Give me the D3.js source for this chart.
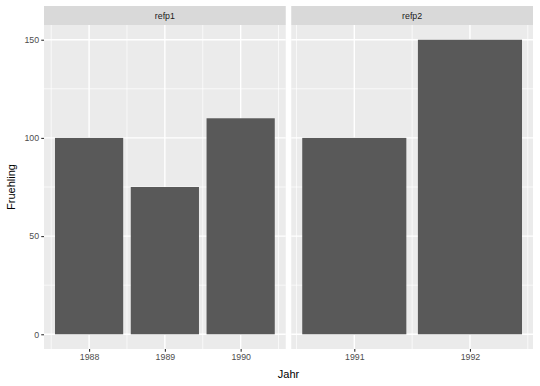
<!DOCTYPE html>
<html>
<head>
<meta charset="utf-8">
<script src="https://cdn.jsdelivr.net/npm/d3@7"></script>
<style>
  body { margin: 0; background: #fff; }
  text { font-family: "Liberation Sans", Arial, Helvetica, sans-serif; }
</style>
</head>
<body>
<div class="container"></div>
<script>
// facet labels and the data in each facet
const facets = ["refp1", "refp2"]
const years1 = [1988, 1989, 1990]
const values1 = [100, 75, 110]
const years2 = [1991, 1992]
const values2 = [100, 150]
const yTicks = [0, 50, 100, 150]
const yMinor = [25, 75, 125]

const W = 540, H = 386
const svg = d3.select(".container").append("svg")
    .attr("width", W).attr("height", H)

const panelTop = 25, panelBottom = 349, stripTop = 6
const panelX = [[44, 285.75], [291.25, 533]]
const barW = 0.9

const y = d3.scaleLinear().domain([-7.5, 157.5]).range([panelBottom, panelTop])

const panels = [
    {name: facets[0], years: years1, values: values1},
    {name: facets[1], years: years2, values: values2}
]

panels.forEach((p, i) => {
    const [x0, x1] = panelX[i]
    // continuous x, bar extents plus 5% expansion
    const lo = d3.min(p.years) - barW / 2, hi = d3.max(p.years) + barW / 2
    const pad = (hi - lo) * 0.05
    const x = d3.scaleLinear().domain([lo - pad, hi + pad]).range([x0, x1])

    const g = svg.append("g")

    // strip
    g.append("rect").attr("x", x0).attr("y", stripTop)
        .attr("width", x1 - x0).attr("height", panelTop - stripTop)
        .attr("fill", "#d9d9d9")
    g.append("text").attr("x", (x0 + x1) / 2).attr("y", (stripTop + panelTop) / 2 + 3)
        .attr("text-anchor", "middle").attr("font-size", 8.8)
        .attr("fill", "#1a1a1a").text(p.name)

    // panel background
    g.append("rect").attr("x", x0).attr("y", panelTop)
        .attr("width", x1 - x0).attr("height", panelBottom - panelTop)
        .attr("fill", "#ebebeb")

    // minor grid
    const xMinor = d3.range(Math.ceil(lo - pad - 0.5) + 0.5, hi + pad, 1)
    g.selectAll(".ymin").data(yMinor).enter().append("line")
        .attr("x1", x0).attr("x2", x1)
        .attr("y1", d => y(d)).attr("y2", d => y(d))
        .attr("stroke", "#fff").attr("stroke-width", 0.7)
    g.selectAll(".xmin").data(xMinor).enter().append("line")
        .attr("y1", panelTop).attr("y2", panelBottom)
        .attr("x1", d => x(d)).attr("x2", d => x(d))
        .attr("stroke", "#fff").attr("stroke-width", 0.7)

    // major grid
    g.selectAll(".ymaj").data(yTicks).enter().append("line")
        .attr("x1", x0).attr("x2", x1)
        .attr("y1", d => y(d)).attr("y2", d => y(d))
        .attr("stroke", "#fff").attr("stroke-width", 1.4)
    g.selectAll(".xmaj").data(p.years).enter().append("line")
        .attr("y1", panelTop).attr("y2", panelBottom)
        .attr("x1", d => x(d)).attr("x2", d => x(d))
        .attr("stroke", "#fff").attr("stroke-width", 1.4)

    // bars
    g.selectAll(".bar").data(p.years).enter().append("rect")
        .attr("x", d => x(d - barW / 2))
        .attr("width", d => x(d + barW / 2) - x(d - barW / 2))
        .attr("y", (d, k) => y(p.values[k]))
        .attr("height", (d, k) => y(0) - y(p.values[k]))
        .attr("fill", "#595959")

    // x axis
    const ax = g.append("g").attr("transform", `translate(0,${panelBottom})`)
        .call(d3.axisBottom(x).tickValues(p.years).tickFormat(d3.format("d"))
            .tickSizeOuter(0).tickSizeInner(2.75).tickPadding(2.2))
    ax.select(".domain").remove()
    ax.selectAll("line").attr("stroke", "#333").attr("stroke-width", 1.1)
    ax.selectAll("text").attr("fill", "#4d4d4d").attr("font-size", 8.8)
        .attr("font-family", "Liberation Sans, Arial, sans-serif")
})

// y axis on the first panel
const ay = svg.append("g").attr("transform", `translate(${panelX[0][0]},0)`)
    .call(d3.axisLeft(y).tickValues(yTicks).tickSizeOuter(0)
        .tickSizeInner(2.75).tickPadding(2.2))
ay.select(".domain").remove()
ay.selectAll("line").attr("stroke", "#333").attr("stroke-width", 1.1)
ay.selectAll("text").attr("fill", "#4d4d4d").attr("font-size", 8.8)
    .attr("font-family", "Liberation Sans, Arial, sans-serif")

// axis titles
svg.append("text").attr("x", (panelX[0][0] + panelX[1][1]) / 2).attr("y", 378)
    .attr("text-anchor", "middle").attr("font-size", 11).attr("fill", "#000")
    .text("Jahr")
svg.append("text")
    .attr("transform", `translate(15,${(panelTop + panelBottom) / 2}) rotate(-90)`)
    .attr("text-anchor", "middle").attr("font-size", 11).attr("fill", "#000")
    .text("Fruehling")
</script>
</body>
</html>
